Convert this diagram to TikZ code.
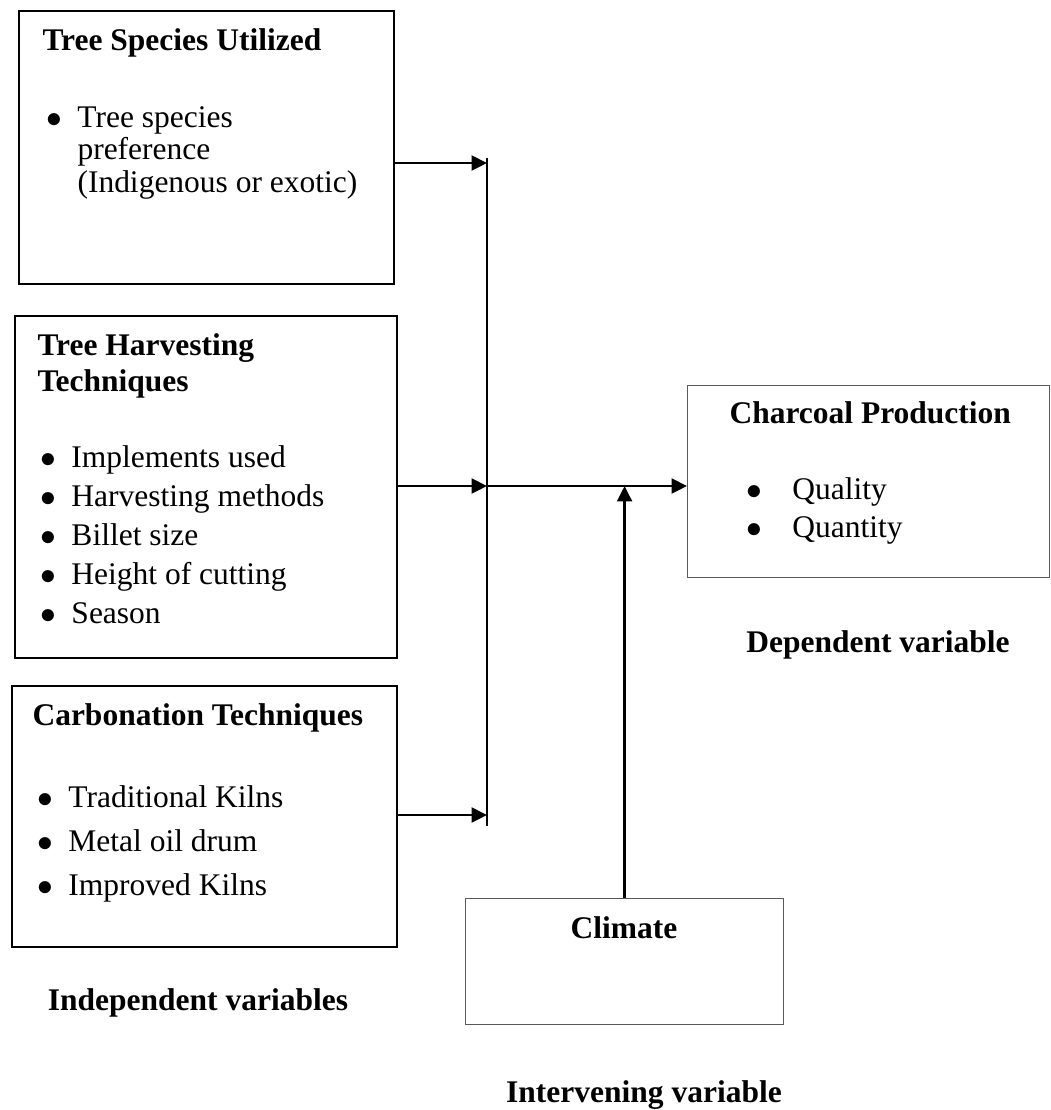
\documentclass[tikz,border=0pt]{standalone}
\usepackage{fontspec}
\setmainfont{Liberation Serif}
\usetikzlibrary{arrows.meta}
\newcommand{\px}{0.381pt}
\newcommand{\itm}[2][11.8pt]{\makebox[#1][l]{$\bullet$}#2}

\begin{document}
\begin{tikzpicture}[x=0.381pt, y=-0.381pt,
    ibox/.style={draw, line width=0.8pt, inner sep=0pt, anchor=north west},
    obox/.style={draw=black!65, line width=0.45pt, inner sep=0pt, anchor=north west},
    txt/.style={anchor=base west, inner sep=0pt, font=\fontsize{12}{14}\selectfont},
    head/.style={txt, font=\fontsize{12}{14}\selectfont\bfseries},
    arr/.style={-{Triangle[length=5.9pt, width=5.7pt]}, line width=0.9pt}]
      \useasboundingbox (0,0) rectangle (1051,1110);

      \node[ibox, minimum width=375*\px, minimum height=273*\px] (species) at (18,10) {};
      \node[ibox, minimum width=382*\px, minimum height=342*\px] (harvest) at (14,315) {};
      \node[ibox, minimum width=385*\px, minimum height=261*\px] (carbon) at (11,685) {};
      \node[obox, minimum width=362*\px, minimum height=192*\px] (charcoal) at (687,385) {};
      \node[obox, minimum width=318*\px, minimum height=126*\px] (climate) at (465,898) {};

      \node[head] (speciestitle) at (42,50) {Tree Species Utilized};
      \node[txt] (species1) at (46,127) {\itm{Tree species}};
      \node[txt] (species2) at (77,159.5) {preference};
      \node[txt] (species3) at (77,192) {(Indigenous or exotic)};

      \node[head] (harvesttitle) at (37,355) {Tree Harvesting};
      \node[head] (harvesttitleb) at (37,391) {Techniques};
      \foreach \t [count=\i from 0] in {Implements used, Harvesting methods, Billet size, Height of cutting, Season}
        \node[txt] (harvest\i) at (40,467+39*\i) {\itm{\t}};

      \node[head] (carbontitle) at (32,725) {Carbonation Techniques};
      \foreach \t [count=\i from 0] in {Traditional Kilns, Metal oil drum, Improved Kilns}
        \node[txt] (carbon\i) at (37,807+44*\i) {\itm{\t}};

      \node[head] (charcoaltitle) at (729,423) {Charcoal Production};
      \node[txt] (charcoal1) at (746,499) {\itm[17.5pt]{Quality}};
      \node[txt] (charcoal2) at (746,537) {\itm[17.5pt]{Quantity}};

      \node[head, anchor=base] (climatetitle) at (624,938) {Climate};

      \node[head, anchor=base] (indeplbl) at (198,1010) {Independent variables};
      \node[head, anchor=base] (deplbl) at (878,652) {Dependent variable};
      \node[head, anchor=base] (intervlbl) at (644,1102) {Intervening variable};

      \coordinate (bartop) at (487,158);
      \coordinate (barbot) at (487,826);
      \coordinate (jA) at (487,163);
      \coordinate (jB) at (487,486);
      \coordinate (jC) at (487,815);

      \draw[line width=0.45pt] (bartop) -- (barbot);
      \draw[arr] (species.east |- jA) -- (jA);
      \draw[arr] (harvest.east |- jB) -- (jB);
      \draw[arr] (carbon.east |- jC) -- (jC);
      \draw[arr] (jB) -- (charcoal.west |- jB);
      \draw[arr] (climate.north) -- (climate.north |- jB);
    \end{tikzpicture}
\end{document}
